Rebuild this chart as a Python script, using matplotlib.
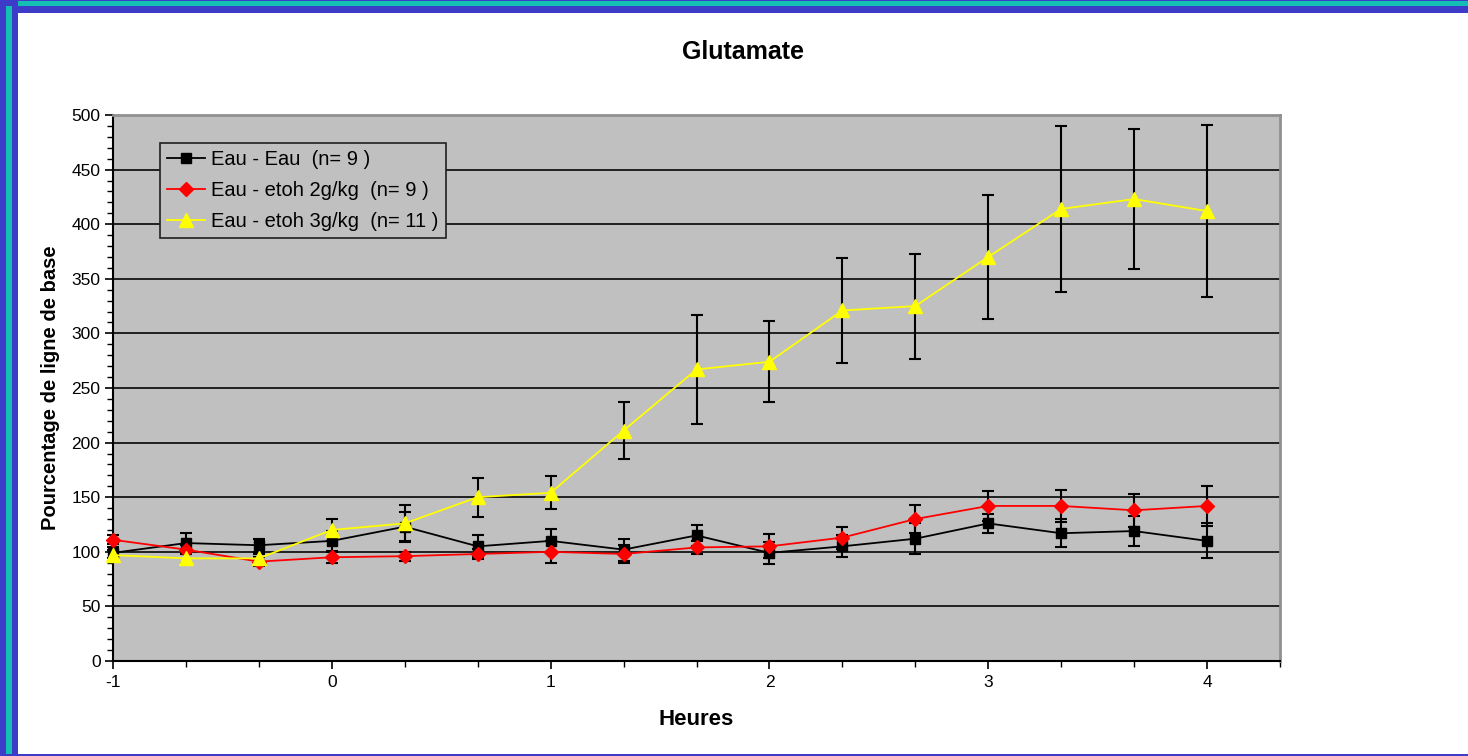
import matplotlib.pyplot as plt
from matplotlib.patches import Rectangle
from matplotlib.lines import Line2D
from matplotlib.ticker import MultipleLocator

plt.rcParams.update({'font.family': ['Liberation Sans', 'DejaVu Sans'], 'font.size': 12,
                     'axes.unicode_minus': False})

# time in hours (one sample every 20 min)
heures = [-1, -2/3, -1/3, 0, 1/3, 2/3, 1, 4/3, 5/3, 2, 7/3, 8/3, 3, 10/3, 11/3, 4]

eau_eau = [99, 108, 106, 110, 123, 105, 110, 102, 115, 99, 105, 112, 126, 117, 119, 110]
eau_eau_err = [5, 9, 6, 9, 13, 10, 11, 10, 10, 10, 10, 14, 9, 13, 14, 16]

etoh2 = [111, 102, 91, 95, 96, 98, 100, 98, 104, 105, 113, 130, 142, 142, 138, 142]
etoh2_err = [4, 4, 4, 5, 4, 5, 10, 8, 6, 11, 10, 13, 14, 15, 15, 18]

etoh3 = [97, 94, 94, 120, 126, 150, 154, 211, 267, 274, 321, 325, 370, 414, 423, 412]
etoh3_err = [5, 4, 4, 10, 17, 18, 15, 26, 50, 37, 48, 48, 57, 76, 64, 79]

labels = ['Eau - Eau  (n= 9 )', 'Eau - etoh 2g/kg  (n= 9 )', 'Eau - etoh 3g/kg  (n= 11 )']

W, H = 1468, 756
fig = plt.figure(figsize=(W / 100, H / 100), dpi=100)
fig.patch.set_facecolor('white')

# slide frame (blue / teal stripes on the left and top)
blue = '#3c3cc8'
teal = '#14beb4'


def px_rect(x0, y0, x1, y1, c):
    fig.add_artist(Rectangle((x0 / W, 1 - y1 / H), (x1 - x0) / W, (y1 - y0) / H,
                             transform=fig.transFigure, color=c, lw=0, zorder=10))


px_rect(0, 0, W, 13, blue)
px_rect(0, 1, W, 6, teal)
px_rect(0, 0, 18, H, blue)
px_rect(6, 6, 12, H, teal)
px_rect(0, 754, W, H, blue)

ax = fig.add_axes([113 / W, 1 - 661 / H, (1280 - 113) / W, (661 - 115) / H])
ax.set_facecolor('#c0c0c0')

for y in range(50, 500, 50):
    ax.axhline(y, color='#202020', lw=1.4, zorder=1)

ekw = dict(ecolor='black', elinewidth=1.5, capsize=4, capthick=1.5, zorder=3, clip_on=False)
styles = [('black', 's', 7), ('#ff0000', 'D', 7.5), ('#ffff00', '^', 10)]
series = [(eau_eau, eau_eau_err), (etoh2, etoh2_err), (etoh3, etoh3_err)]
handles = []
for (vals, err), (c, m, ms), lab in zip(series, styles, labels):
    ax.errorbar(heures, vals, yerr=err, color=c, lw=1.3, marker=m, ms=ms,
                mfc=c, mec=c, **ekw)
    handles.append(Line2D([], [], color=c, lw=1.3, marker=m, ms=ms, mfc=c, mec=c, label=lab))

ax.set_xlim(-1, 4 + 1/3)
ax.set_ylim(0, 500)
ax.xaxis.set_major_locator(MultipleLocator(1))
ax.xaxis.set_minor_locator(MultipleLocator(1/3))
ax.yaxis.set_major_locator(MultipleLocator(50))
ax.yaxis.set_minor_locator(MultipleLocator(10))
ax.tick_params(axis='both', which='major', direction='out', length=6, width=1.2, labelsize=12.5)
ax.tick_params(axis='both', which='minor', direction='out', length=4, width=1.0)
ax.tick_params(axis='x', which='major', pad=4)
ax.tick_params(axis='y', which='major', pad=3)

for s in ['left', 'bottom']:
    ax.spines[s].set_color('black')
    ax.spines[s].set_linewidth(1.5)
for s in ['top', 'right']:
    ax.spines[s].set_color('#909090')
    ax.spines[s].set_linewidth(2)

ax.set_xlabel('Heures', fontsize=16, fontweight='bold', labelpad=14)
ax.set_ylabel('Pourcentage de ligne de base', fontsize=14.5, fontweight='bold', labelpad=8)
fig.text(743 / W, 1 - 52 / H, 'Glutamate', fontsize=18, fontweight='bold', ha='center', va='center')

leg = ax.legend(handles=handles, loc='upper left',
                bbox_to_anchor=((160 - 113) / (1280 - 113), 1 - (143 - 115) / (661 - 115)),
                fontsize=14.5, frameon=True, fancybox=False, borderaxespad=0, handlelength=1.9,
                labelspacing=0.6, borderpad=0.35, handletextpad=0.3)
leg.get_frame().set_facecolor('#c0c0c0')
leg.get_frame().set_edgecolor('#202020')
leg.get_frame().set_alpha(1)
leg.get_frame().set_linewidth(1.2)

fig.savefig('out.png', dpi=100)
